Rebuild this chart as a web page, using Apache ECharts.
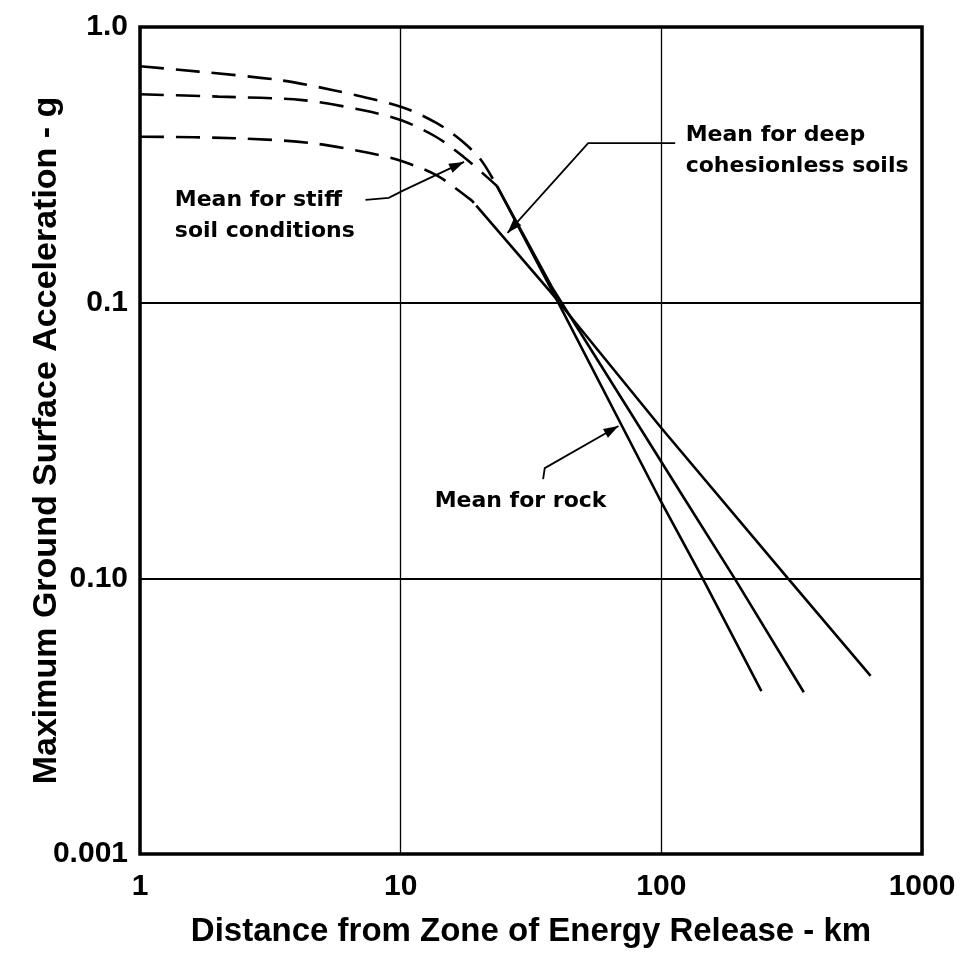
<!DOCTYPE html>
<html><head><meta charset="utf-8">
<script src="https://cdn.jsdelivr.net/npm/echarts@6/dist/echarts.min.js"></script>
<style>html,body{margin:0;padding:0;background:#fff}#c{width:969px;height:958px}</style>
</head><body><div id="c"></div>
<script>
// ---- tick labels (as printed on the original) ----
const xTickLabels = ['1', '10', '100', '1000'];          // 10^0 .. 10^3
const yTickLabels = ['0.001', '0.10', '0.1', '1.0'];     // 10^-3 .. 10^0

// ---- near-field dashed portions: [distance km, acceleration g] ----
const curveA_dashed = [[1,0.72],[1.68,0.689],[3.42,0.642],[5.46,0.591],[10,0.514],[13.7,0.449],[17,0.389],[20.3,0.33],[23.4,0.265]];
const curveB_dashed = [[1,0.57],[2.0,0.559],[4.2,0.543],[7.1,0.5],[10,0.46],[13.7,0.399],[17.5,0.337],[21.4,0.286],[23.4,0.265]];
const curveC_dashed = [[1,0.40],[2.32,0.395],[4.47,0.38],[7.6,0.349],[10,0.327],[13.7,0.29],[18.6,0.236],[19.5,0.225]];

// ---- solid mean curves ----
const rock  = [[23.4,0.265],[38,0.111],[98,0.0196],[144,0.01],[242,0.0039]];
const stiff = [[23.4,0.265],[38,0.114],[122,0.0196],[191,0.01],[352,0.00386]];
const deep  = [[19.5,0.225],[38,0.108],[100,0.0351],[306,0.01],[635,0.00443]];

// ---- annotations (data coordinates) ----
const stiffText = 'Mean for stiff\nsoil conditions';
const stiffTextAt = [1.36, 0.206];
const stiffLeader = [[7.33,0.236],[9.0,0.24],[10.3,0.256],[17.5,0.324]];
const deepText = 'Mean for deep\ncohesionless soils';
const deepTextAt = [124, 0.355];
const deepLeader = [[113,0.379],[52.4,0.379],[25.7,0.179]];
const rockText = 'Mean for rock';
const rockTextAt = [13.5, 0.0191];
const rockLeader = [[35.2,0.0229],[35.7,0.0251],[68.5,0.0357]];

const chart = echarts.init(document.getElementById('c'), null, {renderer:'canvas'});
const lbl = (arr, v) => arr[Math.round(Math.log10(v)) - (arr === yTickLabels ? -3 : 0)];
const tickFont = {fontFamily:'Liberation Sans', fontWeight:'bold', fontSize:30, color:'#000'};
const titleFontX = {fontFamily:'Liberation Sans', fontWeight:'bold', fontSize:33, color:'#000'};
const titleFontY = {fontFamily:'Liberation Sans', fontWeight:'bold', fontSize:34, color:'#000'};

function dashed(data){ return {type:'line', data, symbol:'none', smooth:0.3, silent:true,
  lineStyle:{color:'#000', width:2.6, type:[24,12]}}; }
function solid(data){ return {type:'line', data, symbol:'none', silent:true,
  lineStyle:{color:'#000', width:2.6}}; }

const option = {
  animation:false,
  backgroundColor:'#fff',
  grid:{left:140, right:47, top:27, bottom:104, show:true, borderColor:'#000', borderWidth:3.5},
  xAxis:{type:'log', logBase:10, min:1, max:1000,
    axisLine:{show:false}, axisTick:{show:false}, minorTick:{show:false},
    splitLine:{show:true, lineStyle:{color:'#000', width:1.3}},
    axisLabel:Object.assign({margin:18, formatter:v=>lbl(xTickLabels,v)}, tickFont),
    name:'Distance from Zone of Energy Release - km', nameLocation:'middle', nameGap:61,
    nameMoveOverlap:false, nameTextStyle:titleFontX},
  yAxis:{type:'log', logBase:10, min:0.001, max:1,
    axisLine:{show:false}, axisTick:{show:false}, minorTick:{show:false},
    splitLine:{show:true, lineStyle:{color:'#000', width:2}},
    axisLabel:Object.assign({margin:12, formatter:v=>lbl(yTickLabels,v)}, tickFont),
    name:'Maximum Ground Surface Acceleration - g', nameLocation:'middle', nameGap:76,
    nameMoveOverlap:false, nameTextStyle:titleFontY},
  series:[dashed(curveA_dashed), dashed(curveB_dashed), dashed(curveC_dashed),
          solid(rock), solid(stiff), solid(deep)]
};
chart.setOption(option);

function px(p){ return chart.convertToPixel({gridIndex:0}, p); }
function leader(points){
  const pts = points.map(px);
  const n = pts.length;
  const [x1,y1] = pts[n-2], [x2,y2] = pts[n-1];
  const a = Math.atan2(y2-y1, x2-x1), L = 15, W = 5;
  const bx = x2 - L*Math.cos(a), by = y2 - L*Math.sin(a);
  const tri = [[x2,y2],[bx + W*Math.sin(a), by - W*Math.cos(a)],[bx - W*Math.sin(a), by + W*Math.cos(a)]];
  return [
    {type:'polyline', shape:{points:pts}, style:{stroke:'#000', lineWidth:1.8, fill:null}, z:100},
    {type:'polygon', shape:{points:tri}, style:{fill:'#000'}, z:100}
  ];
}
function label(text, at){
  const p = px(at);
  return {type:'text', x:p[0], y:p[1], z:100,
    style:{text, fill:'#000', font:'bold 22px "DejaVu Sans"', align:'left', verticalAlign:'middle',
      textAlign:'left', textVerticalAlign:'middle', lineHeight:31}};
}
chart.setOption({graphic:[
  label(stiffText, stiffTextAt), label(deepText, deepTextAt), label(rockText, rockTextAt),
  ...leader(stiffLeader), ...leader(deepLeader), ...leader(rockLeader)
]});
</script></body></html>
